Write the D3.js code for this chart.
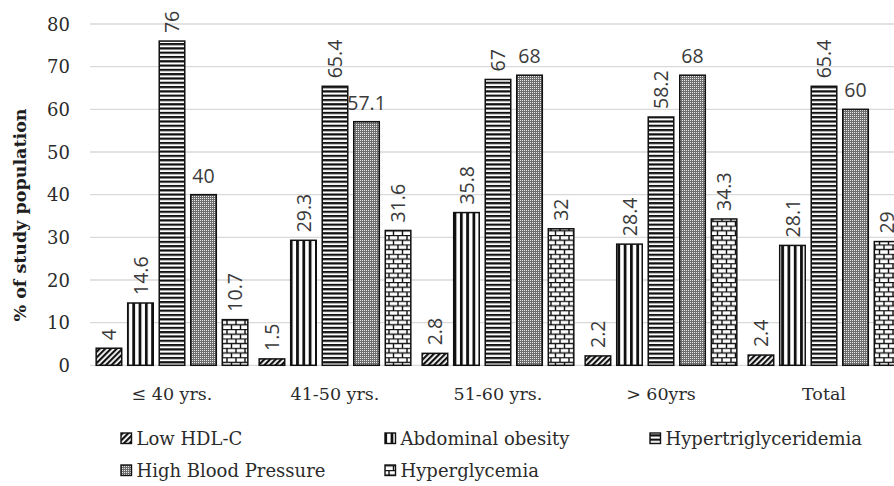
<!DOCTYPE html>
<html>
<head>
<meta charset="utf-8">
<script src="https://cdn.jsdelivr.net/npm/d3@7"></script>
<style>
  html, body { margin: 0; padding: 0; background: #fff; }
  svg { display: block; }
</style>
</head>
<body>
<svg id="chart" width="894" height="486"></svg>
<script>
// ---- data ----
const categories = ["\u2264 40 yrs.", "41-50 yrs.", "51-60 yrs.", "> 60yrs", "Total"];
const seriesNames = ["Low HDL-C", "Abdominal obesity", "Hypertriglyceridemia", "High Blood Pressure", "Hyperglycemia"];
const lowHDL = [4, 1.5, 2.8, 2.2, 2.4];
const abdominalObesity = [14.6, 29.3, 35.8, 28.4, 28.1];
const hypertriglyceridemia = [76, 65.4, 67, 58.2, 65.4];
const highBloodPressure = [40, 57.1, 68, 68, 60];
const hyperglycemia = [10.7, 31.6, 32, 34.3, 29];
const yTicks = [0, 10, 20, 30, 40, 50, 60, 70, 80];
const yTitle = "% of study population";

const seriesValues = [lowHDL, abdominalObesity, hypertriglyceridemia, highBloodPressure, hyperglycemia];
const patternIds = ["pHDL", "pAbd", "pTri", "pHBP", "pGly"];
const horizontalLabel = [false, false, false, true, false];

const svg = d3.select("#chart");
const serif = "'DejaVu Serif', serif";
const sans = "'Open Sans', 'Noto Sans', sans-serif";

// ---- patterns ----
const defs = svg.append("defs");
// diagonal hatch
const p1 = defs.append("pattern").attr("id", "pHDL").attr("patternUnits", "userSpaceOnUse")
  .attr("width", 4).attr("height", 4).attr("patternTransform", "rotate(45)");
p1.append("rect").attr("width", 4).attr("height", 4).attr("fill", "#fff");
p1.append("rect").attr("width", 2.2).attr("height", 4).attr("fill", "#111");
// vertical lines
const p2 = defs.append("pattern").attr("id", "pAbd").attr("patternUnits", "userSpaceOnUse")
  .attr("width", 6.3).attr("height", 6);
p2.append("rect").attr("width", 6.3).attr("height", 6).attr("fill", "#fff");
p2.append("rect").attr("x", 0).attr("width", 2.8).attr("height", 6).attr("fill", "#111");
// horizontal lines
const p3 = defs.append("pattern").attr("id", "pTri").attr("patternUnits", "userSpaceOnUse")
  .attr("width", 6).attr("height", 4.3);
p3.append("rect").attr("width", 6).attr("height", 4.3).attr("fill", "#fff");
p3.append("rect").attr("y", 0).attr("width", 6).attr("height", 2.2).attr("fill", "#111");
// fine dotted grey
const p4 = defs.append("pattern").attr("id", "pHBP").attr("patternUnits", "userSpaceOnUse")
  .attr("width", 2).attr("height", 2);
p4.append("rect").attr("width", 2).attr("height", 2).attr("fill", "#6e6e6e");
p4.append("rect").attr("width", 1).attr("height", 1).attr("fill", "#e8e8e8");
// brick
const p5 = defs.append("pattern").attr("id", "pGly").attr("patternUnits", "userSpaceOnUse")
  .attr("width", 9).attr("height", 9.4);
p5.append("rect").attr("width", 9).attr("height", 9.4).attr("fill", "#fff");
p5.append("path").attr("d", "M0,0.5H9 M0,5.2H9 M2,0.5V5.2 M6.5,5.2V9.9")
  .attr("stroke", "#111").attr("stroke-width", 1.4).attr("fill", "none");

// ---- scales ----
const y = d3.scaleLinear().domain([0, 80]).range([365.3, 24]);
const x0 = d3.scaleBand().domain(categories).range([90.5, 905.5]).paddingInner(0).paddingOuter(0);
const x1 = d3.scaleBand().domain(seriesNames).range([0, x0.bandwidth()]).paddingInner(0.19).paddingOuter(0.18);

// ---- y axis labels ----
const yAxis = d3.axisLeft(y).tickValues(yTicks).tickSize(0).tickPadding(0);
const gy = svg.append("g").attr("transform", "translate(70,0)").call(yAxis);
gy.select(".domain").remove();
gy.selectAll("text").attr("font-family", serif).attr("font-size", 18).attr("fill", "#2b2b2b").attr("dy", "0.35em");

// ---- gridlines ----
svg.append("g").selectAll("line").data(yTicks).join("line")
  .attr("x1", 90).attr("x2", 894)
  .attr("y1", d => y(d)).attr("y2", d => y(d))
  .attr("stroke", "#d9d9d9").attr("stroke-width", 1.3);

// ---- bars ----
const rows = [];
categories.forEach((c, ci) => {
  seriesNames.forEach((s, si) => {
    rows.push({ cat: c, series: s, si: si, v: seriesValues[si][ci] });
  });
});

svg.append("g").selectAll("rect").data(rows).join("rect")
  .attr("x", d => x0(d.cat) + x1(d.series))
  .attr("y", d => y(d.v))
  .attr("width", x1.bandwidth())
  .attr("height", d => y(0) - y(d.v))
  .attr("fill", d => `url(#${patternIds[d.si]})`)
  .attr("stroke", "#111").attr("stroke-width", 1.5);

// ---- data labels ----
const lg = svg.append("g").attr("font-family", sans).attr("font-size", 19.5).attr("fill", "#3a3a3a");
rows.forEach(d => {
  const cx = x0(d.cat) + x1(d.series) + x1.bandwidth() / 2;
  const top = y(d.v);
  if (horizontalLabel[d.si]) {
    lg.append("text").attr("x", cx).attr("y", top - 12).attr("text-anchor", "middle").text(String(d.v));
  } else {
    lg.append("text")
      .attr("transform", `translate(${cx},${top - 8}) rotate(-90)`)
      .attr("dy", "0.36em").attr("text-anchor", "start").text(String(d.v));
  }
});

// ---- category labels ----
svg.append("g").selectAll("text").data(categories).join("text")
  .attr("x", d => x0(d) + x0.bandwidth() / 2)
  .attr("y", 400)
  .attr("text-anchor", "middle")
  .attr("font-family", serif).attr("font-size", 17.5).attr("fill", "#2b2b2b")
  .text(d => d);

// ---- y title ----
svg.append("text")
  .attr("transform", "translate(20,215) rotate(-90)")
  .attr("dy", "0.35em")
  .attr("text-anchor", "middle")
  .attr("font-family", serif).attr("font-size", 17.5).attr("font-weight", "bold").attr("fill", "#1e1e1e")
  .text(yTitle);

// ---- legend ----
const legendPos = [[121, 439], [385, 439], [650, 439], [121, 471], [385, 471]];
const leg = svg.append("g");
seriesNames.forEach((s, i) => {
  const [lx, ly] = legendPos[i];
  leg.append("rect").attr("x", lx).attr("y", ly - 6).attr("width", 10.5).attr("height", 10.5)
    .attr("fill", `url(#${patternIds[i]})`).attr("stroke", "#111").attr("stroke-width", 1.4);
  leg.append("text").attr("x", lx + 15.5).attr("y", ly).attr("dy", "0.35em")
    .attr("font-family", serif).attr("font-size", 18).attr("fill", "#2b2b2b").text(s);
});
</script>
</body>
</html>
